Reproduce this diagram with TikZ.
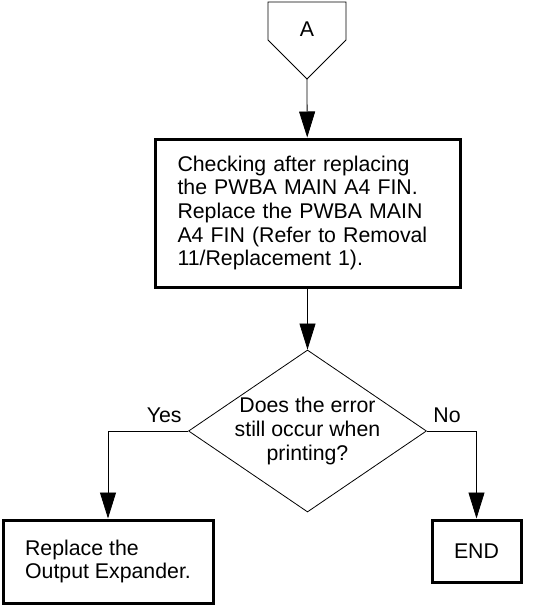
\documentclass[tikz,border=0pt]{standalone}
\usepackage{fontspec}
\setmainfont{Liberation Sans}
\usetikzlibrary{shapes.geometric,arrows.meta}
\begin{document}
\begin{tikzpicture}[x=1pt,y=-1pt,
    flow/.style={draw, line width=0.8pt, -{Triangle[length=26pt,width=16pt]}},
    procbox/.style={draw, line width=3pt, align=left, font=\fontsize{21.3}{23.6}\selectfont},
    txt/.style={font=\fontsize{21.3}{23.6}\selectfont}]
    \useasboundingbox (0,0) rectangle (535,605);

    % 1. 连接符 A
    \coordinate (conAtip) at (307,79);
    \draw[line width=0.8pt] (268,2) -- (346,2) -- (346,40) -- (conAtip) -- (268,40) -- cycle;
    \node[txt] (conA) at (307,29) {A};

    % 2. 检查框
    \node[procbox, minimum width=305pt, minimum height=148pt, text width=260pt] (check) at (307.5,213)
        {Checking after replacing\\the PWBA MAIN A4 FIN.\\Replace the PWBA MAIN\\A4 FIN (Refer to Removal\\11/Replacement 1).};
    \draw[flow] (conAtip) -- (check);

    % 3. 判断菱形
    \node[diamond, draw, line width=0.8pt, minimum width=238pt, minimum height=162pt, inner sep=0pt] (ask) at (307.5,431) {};
    \node[txt, align=center] (askText) at (ask.center) {Does the error\\still occur when\\printing?};
    \draw[flow] (check) -- (ask);

    % 4. 结果框
    \node[procbox, minimum width=210pt, minimum height=83pt] (fix) at (108,561.5)
        {Replace the\\Output Expander.};
    \node[procbox, align=center, minimum width=89pt, minimum height=62pt] (finish) at (476.5,551) {END};

    % 5. 分支连线与标签
    \draw[flow] (ask.west) -| (fix.north);
    \draw[flow] (ask.east) -| (finish.north);
    \node[txt, anchor=base east, yshift=9pt, xshift=-3pt] (yes) at (ask.west) {Yes};
    \node[txt, anchor=base west, yshift=9pt, xshift=3pt] (no) at (ask.east) {No};
\end{tikzpicture}
\end{document}
